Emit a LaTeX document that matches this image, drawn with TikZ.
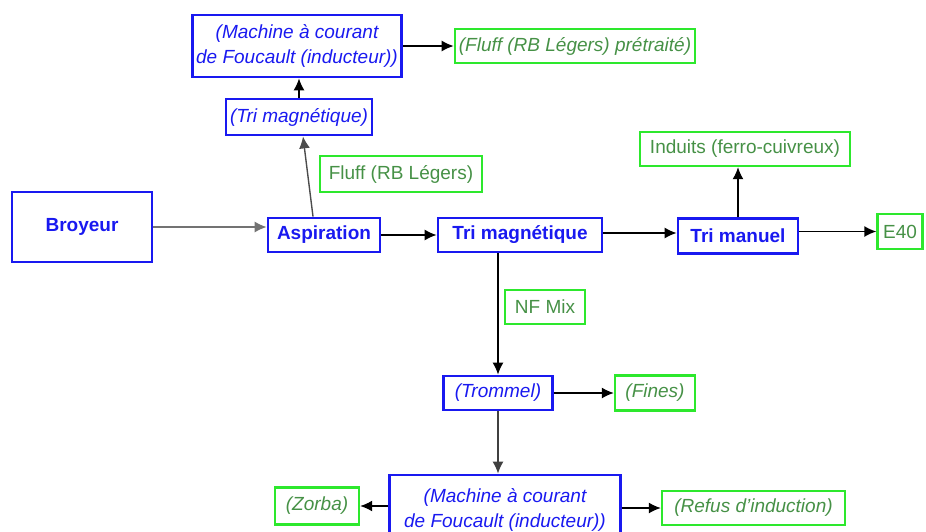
\documentclass[tikz,border=0pt]{standalone}
\usepackage{fontspec}
\setmainfont{Liberation Sans}
\usepackage{xcolor}
\usepackage{tikz}
\usetikzlibrary{arrows.meta,positioning}
\definecolor{procblue}{RGB}{25,25,240}
\definecolor{prodline}{RGB}{45,232,45}
\definecolor{prodtext}{RGB}{70,145,70}

\begin{document}
\begin{tikzpicture}[
  x=0.5pt, y=-0.5pt,
  proc/.style={draw=procblue,line width=1.4pt,text=procblue,align=center,inner sep=2pt,
    font=\fontsize{9.5}{12.5}\selectfont\itshape},
  bproc/.style={proc,font=\fontsize{9.5}{12}\selectfont\bfseries},
  prod/.style={draw=prodline,line width=1.2pt,text=prodtext,align=center,inner sep=2pt,
    font=\fontsize{9.5}{12}\selectfont},
  iprod/.style={prod,font=\fontsize{9.5}{12}\selectfont\itshape},
  arrow/.style={-{Latex[length=6pt,width=5.5pt]},line width=0.7pt}
]
\useasboundingbox (0,0) rectangle (926,531);

\node[bproc, minimum width=70pt, minimum height=35pt] (broy) at (82,227) {Broyeur};
\node[bproc, minimum width=56pt, minimum height=17pt] (asp) at (324,235) {Aspiration};
\node[bproc, minimum width=82pt, minimum height=17pt] (trimag) at (520,235) {Tri magnétique};
\node[bproc, minimum width=60pt, minimum height=17.5pt] (triman) at (738,236) {Tri manuel};
\node[prod, minimum width=22.5pt, minimum height=17.5pt] (e40) at (900,231.5) {E40};
\node[prod, minimum width=105pt, minimum height=17pt] (ind) at (745,149) {Induits (ferro-cuivreux)};

% branche aspiration
\node[prod, minimum width=81pt, minimum height=18pt] (fluff) at (401,174) {Fluff (RB Légers)};
\node[proc, minimum width=69pt, minimum height=18pt] (trimagb) at (299,117) {(Tri magnétique)};
\node[proc, minimum width=103.5pt, minimum height=31pt] (foucA) at (297,46) {(Machine à courant\\de Foucault (inducteur))};
\node[iprod, minimum width=118pt, minimum height=17pt] (fluffpt) at (575,46) {(Fluff (RB Légers) prétraité)};

% branche NF
\node[prod, minimum width=40pt, minimum height=17pt] (nfmix) at (545,307) {NF Mix};
\node[proc, minimum width=54.5pt, minimum height=17pt] (tromm) at (498,393) {(Trommel)};
\node[iprod, minimum width=40pt, minimum height=17.5pt] (fines) at (655,393) {(Fines)};
\node[proc, minimum width=115.5pt, minimum height=35pt] (foucB) at (505,510) {(Machine à courant\\de Foucault (inducteur))};
\node[iprod, minimum width=42pt, minimum height=18.5pt] (zorba) at (317,506) {(Zorba)};
\node[iprod, minimum width=91.5pt, minimum height=17pt] (refus) at (753.5,508) {(Refus d'induction)};

\draw[arrow, draw=black!55, line width=0.6pt] (broy) -- (broy -| asp.west);
\draw[arrow] (asp) -- (trimag);
\draw[arrow] (trimag.east |- 0,233) -- (triman.west |- 0,233);
\draw[arrow] (e40 -| triman.east) -- (e40);
\draw[arrow] (triman) -- (triman |- ind.south);

\draw[arrow, draw=black!70] ([xshift=-5.5pt]asp.north) -- ([xshift=2pt]trimagb.south);
\draw[arrow] (trimagb) -- (trimagb |- foucA.south);
\draw[arrow] (foucA) -- (fluffpt);

\draw[arrow] (trimag.south -| tromm) -- (tromm);
\draw[arrow] (tromm) -- (fines);
\draw[arrow, draw=black!75] (tromm) -- (tromm |- foucB.north);
\draw[arrow] (foucB.west |- zorba) -- (zorba);
\draw[arrow] (foucB.east |- refus) -- (refus);
\end{tikzpicture}
\end{document}
